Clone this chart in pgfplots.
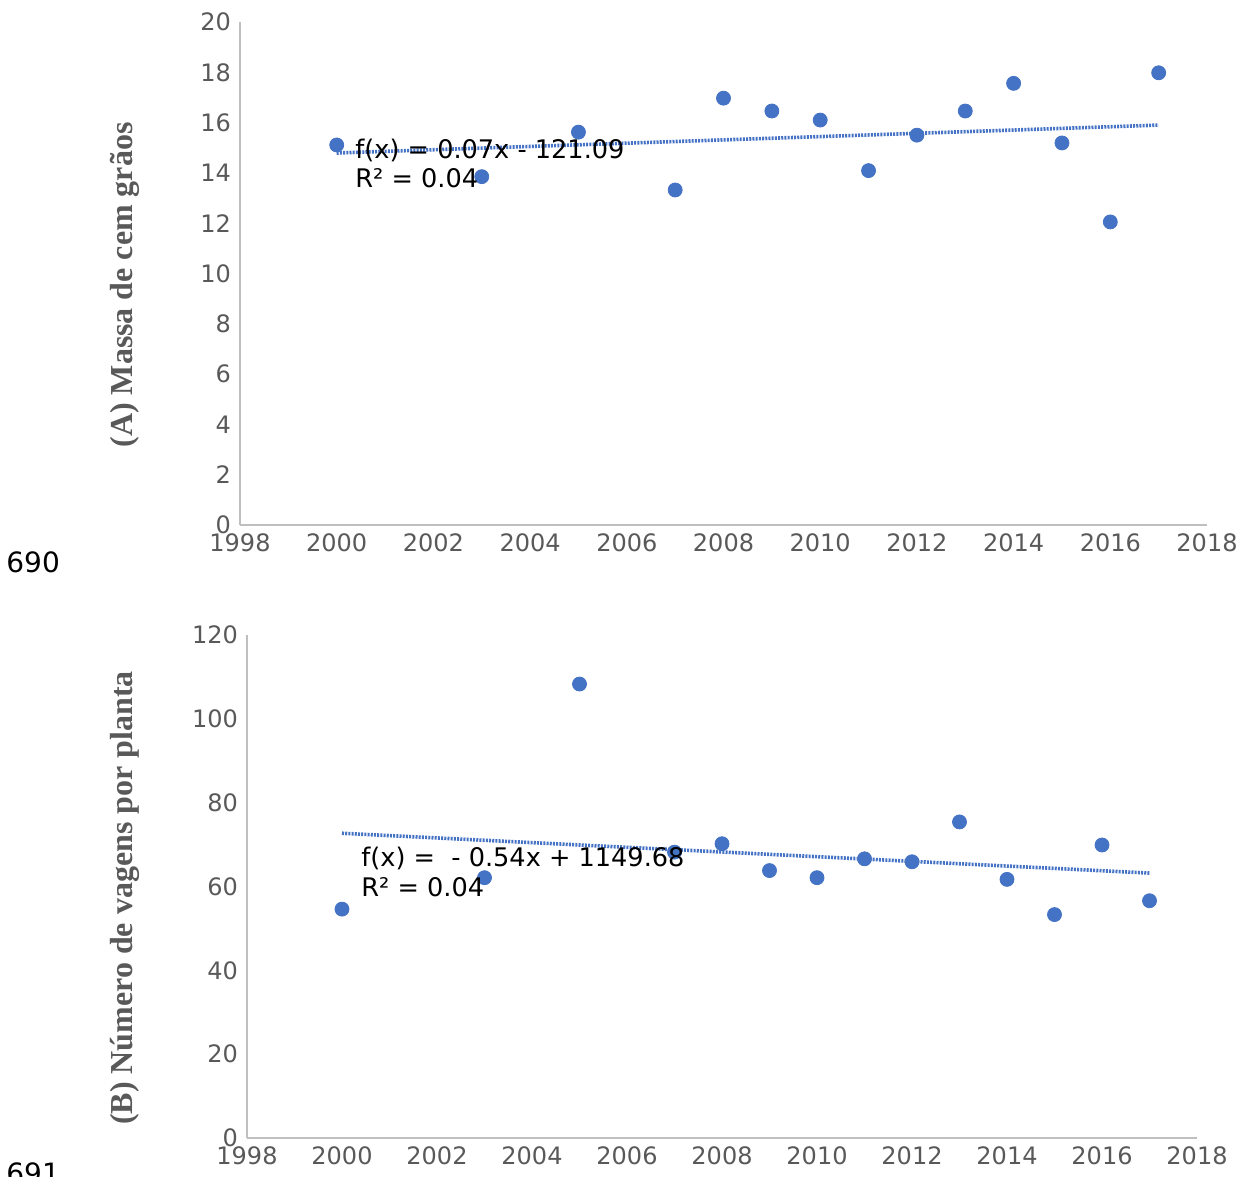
\documentclass[border=0pt]{standalone}
\usepackage{fontspec}
\setmainfont{DejaVu Sans}
\newfontfamily\serifb{Liberation Serif}
\usepackage{pgfplots}
\pgfplotsset{compat=1.18}
\definecolor{tickc}{HTML}{595959}
\definecolor{axl}{HTML}{BFBFBF}
\definecolor{ptc}{HTML}{4472C4}
\pgfplotsset{
  common/.style={
    scale only axis,
    xmin=1998, xmax=2018,
    xtick={1998,2000,...,2018},
    axis lines*=left,
    axis line style={axl, line width=1pt},
    major tick length=0pt,
    tick label style={font=\fontsize{12}{14}\selectfont, color=tickc},
    /pgf/number format/assume math mode=true,
    /pgf/number format/1000 sep={},
    yticklabel style={xshift=-1pt},
    xticklabel style={yshift=-1pt},
    clip=false,
  }
}
\pgfplotstableread{
x y
2000 15.11
2003 13.85
2005 15.62
2007 13.32
2008 16.97
2009 16.46
2010 16.10
2011 14.09
2012 15.50
2013 16.46
2014 17.56
2015 15.19
2016 12.05
2017 17.98
}\tabA
\pgfplotstableread{
x y
2000 54.6
2003 62.1
2005 108.3
2007 68.2
2008 70.2
2009 63.8
2010 62.1
2011 66.6
2012 65.9
2013 75.4
2014 61.7
2015 53.3
2016 69.9
2017 56.6
}\tabB
\begin{document}
\begin{tikzpicture}
\useasboundingbox (0,0) rectangle (622.5pt,588pt);
% Top axis
\begin{axis}[common,
  at={(120pt,325.5pt)}, anchor=south west,
  width=483.5pt, height=251.5pt,
  ymin=0, ymax=20, ytick={0,2,...,20}]
\addplot[ptc, line width=1.8pt, dash pattern=on 1pt off 0.6pt] coordinates {(2000,14.79) (2017,15.90)};
\addplot[only marks, mark=*, mark size=3.5pt, color=ptc] table[x=x,y=y] {\tabA};
\end{axis}
% Bottom axis
\begin{axis}[common,
  at={(123.5pt,19pt)}, anchor=south west,
  width=475pt, height=251.5pt,
  ymin=0, ymax=120, ytick={0,20,...,120}]
\addplot[ptc, line width=1.8pt, dash pattern=on 1pt off 0.6pt] coordinates {(2000,72.7) (2017,63.2)};
\addplot[only marks, mark=*, mark size=3.5pt, color=ptc] table[x=x,y=y] {\tabB};
\end{axis}
% annotations
\begin{scope}[every node/.style={anchor=base west, inner sep=0pt, font=\fontsize{12.8}{15}\selectfont}]
\node at (177.5pt,508.5pt) {f(x) = 0.07x - 121.09};
\node at (177.5pt,494pt) {R² = 0.04};
\node at (180.5pt,154.5pt) {f(x) =\ \ - 0.54x + 1149.68};
\node at (180.5pt,139.5pt) {R² = 0.04};
\node[font=\fontsize{14}{16}\selectfont] at (3pt,301.5pt) {690};
\node[font=\fontsize{14}{16}\selectfont] at (3pt,-3.75pt) {691};
\end{scope}
% y labels
\node[rotate=90, inner sep=0pt, color=tickc, font=\serifb\bfseries\fontsize{16}{19}\selectfont] at (62.5pt,445.5pt) {(A) Massa de cem grãos};
\node[rotate=90, inner sep=0pt, color=tickc, font=\serifb\bfseries\fontsize{16}{19}\selectfont] at (62.5pt,139pt) {(B) Número de vagens por planta};
\end{tikzpicture}
\end{document}
